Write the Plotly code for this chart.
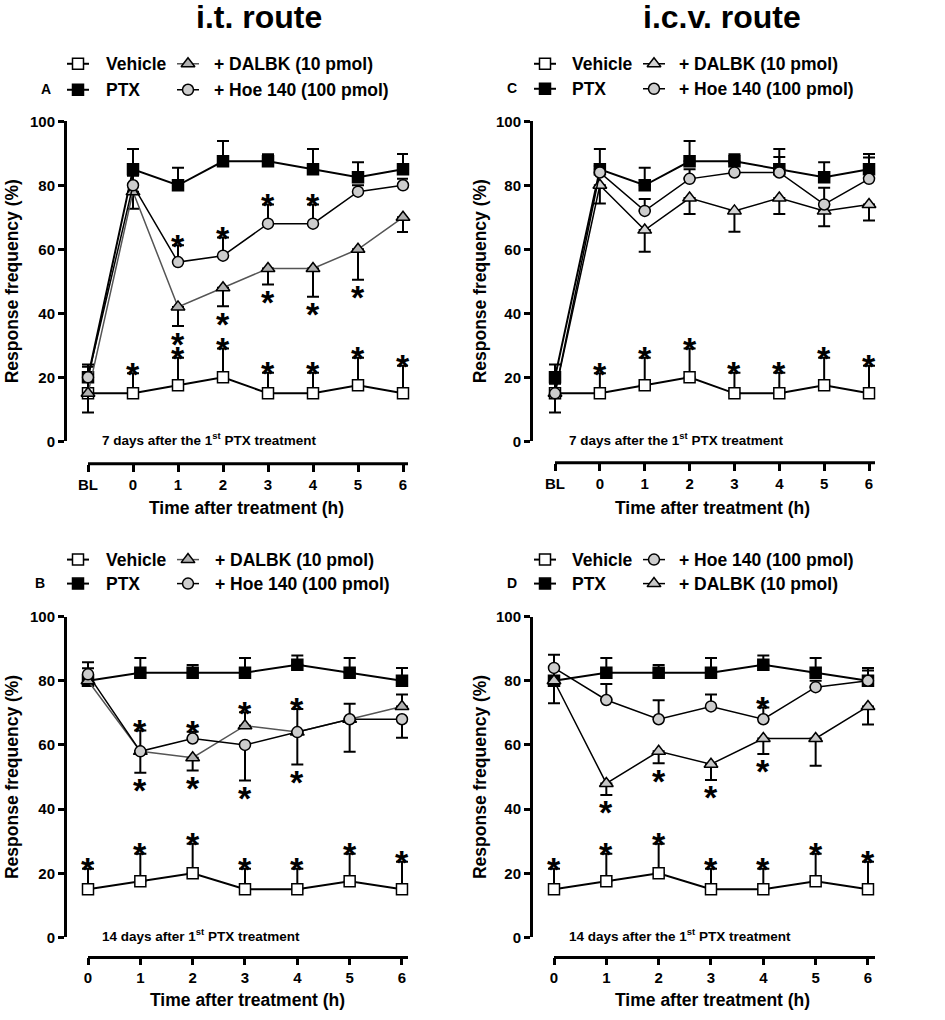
import plotly.graph_objects as go

FONT = "Liberation Sans"

# ---------------- data ----------------
time_7d = [-1, 0, 1, 2, 3, 4, 5, 6]
time_7d_labels = ["BL", "0", "1", "2", "3", "4", "5", "6"]
time_14d = [0, 1, 2, 3, 4, 5, 6]
time_14d_labels = ["0", "1", "2", "3", "4", "5", "6"]
y_ticks = [0, 20, 40, 60, 80, 100]

# Panel A: i.t. route, 7 days
A_vehicle = [15, 15, 17.5, 20, 15, 15, 17.5, 15]
A_vehicle_up = [6.3, 6.3, 8.6, 9.0, 6.4, 6.4, 8.6, 8.6]
A_vehicle_dn = [0, 0, 0, 0, 0, 0, 0, 0]
A_vehicle_star = ["", "u", "u", "u", "u", "u", "u", "u"]
A_ptx = [20, 85, 80, 87.5, 87.5, 85, 82.5, 85]
A_ptx_up = [3.3, 6.3, 5.5, 6.3, 2.2, 6.3, 4.7, 4.8]
A_ptx_dn = [0, 0, 0, 0, 0, 0, 0, 0]
A_ptx_star = ["", "", "", "", "", "", "", ""]
A_dalbk = [15, 78, 42, 48, 54, 54, 60, 70]
A_dalbk_up = [0, 0, 0, 0, 0, 0, 0, 0]
A_dalbk_dn = [6.0, 5.3, 6.0, 5.8, 5.0, 8.8, 9.5, 4.6]
A_dalbk_star = ["", "", "d", "d", "d", "d", "d", ""]
A_hoe = [20, 80, 56, 58, 68, 68, 78, 80]
A_hoe_up = [4.0, 3.0, 5.3, 5.7, 6.0, 6.0, 2.0, 2.0]
A_hoe_dn = [0, 0, 0, 0, 0, 0, 0, 0]
A_hoe_star = ["", "", "u", "u", "u", "u", "", ""]

# Panel C: i.c.v. route, 7 days
C_vehicle = [15, 15, 17.5, 20, 15, 15, 17.5, 15]
C_vehicle_up = [6.3, 6.3, 8.6, 9.0, 6.4, 6.4, 8.6, 8.6]
C_vehicle_dn = [0, 0, 0, 0, 0, 0, 0, 0]
C_vehicle_star = ["", "u", "u", "u", "u", "u", "u", "u"]
C_ptx = [20, 85, 80, 87.5, 87.5, 85, 82.5, 85]
C_ptx_up = [4.0, 6.3, 5.5, 6.3, 2.2, 6.3, 4.7, 4.8]
C_ptx_dn = [0, 0, 0, 0, 0, 0, 0, 0]
C_ptx_star = ["", "", "", "", "", "", "", ""]
C_dalbk = [15, 80, 66, 76, 72, 76, 72, 74]
C_dalbk_up = [0, 0, 0, 0, 0, 0, 0, 0]
C_dalbk_dn = [6.0, 5.7, 6.8, 5.0, 6.5, 5.0, 4.8, 5.0]
C_dalbk_star = ["", "", "", "", "", "", "", ""]
C_hoe = [15, 84, 72, 82, 84, 84, 74, 82]
C_hoe_up = [3.0, 2.0, 3.7, 3.0, 3.0, 4.8, 5.2, 6.7]
C_hoe_dn = [0, 0, 0, 0, 0, 0, 0, 0]
C_hoe_star = ["", "", "", "", "", "", "", ""]

# Panel B: i.t. route, 14 days
B_vehicle = [15, 17.5, 20, 15, 15, 17.5, 15]
B_vehicle_up = [6.4, 8.6, 9.2, 6.4, 6.4, 8.6, 8.6]
B_vehicle_dn = [0, 0, 0, 0, 0, 0, 0]
B_vehicle_star = ["u", "u", "u", "u", "u", "u", "u"]
B_ptx = [80, 82.5, 82.5, 82.5, 85, 82.5, 80]
B_ptx_up = [3.9, 4.6, 2.4, 4.6, 2.9, 4.6, 4.0]
B_ptx_dn = [0, 0, 0, 0, 0, 0, 0]
B_ptx_star = ["", "", "", "", "", "", ""]
B_dalbk = [80, 58, 56, 66, 64, 68, 72]
B_dalbk_up = [2.0, 0, 0, 4.2, 7.2, 4.8, 3.7]
B_dalbk_dn = [0, 6.7, 4.0, 0, 0, 0, 0]
B_dalbk_star = ["", "d", "d", "u", "u", "", ""]
B_hoe = [82, 58, 62, 60, 64, 68, 68]
B_hoe_up = [3.8, 6.5, 2.1, 0, 0, 0, 0]
B_hoe_dn = [0, 0, 0, 11.1, 10.1, 10.1, 5.8]
B_hoe_star = ["", "u", "u", "d", "d", "", ""]

# Panel D: i.c.v. route, 14 days
D_vehicle = [15, 17.5, 20, 15, 15, 17.5, 15]
D_vehicle_up = [6.4, 8.6, 9.2, 6.4, 6.4, 8.6, 8.6]
D_vehicle_dn = [0, 0, 0, 0, 0, 0, 0]
D_vehicle_star = ["u", "u", "u", "u", "u", "u", "u"]
D_ptx = [80, 82.5, 82.5, 82.5, 85, 82.5, 80]
D_ptx_up = [3.9, 4.6, 2.4, 4.6, 2.9, 4.6, 4.0]
D_ptx_dn = [0, 0, 0, 0, 0, 0, 0]
D_ptx_star = ["", "", "", "", "", "", ""]
D_hoe = [84, 74, 68, 72, 68, 78, 80]
D_hoe_up = [4.1, 5.0, 5.9, 3.7, 3.7, 2.0, 3.2]
D_hoe_dn = [0, 0, 0, 0, 0, 0, 0]
D_hoe_star = ["", "", "", "", "u", "", ""]
D_dalbk = [80, 48, 58, 54, 62, 62, 72]
D_dalbk_up = [0, 0, 0, 0, 0, 0, 0]
D_dalbk_dn = [7.0, 3.6, 3.7, 4.9, 4.8, 8.5, 5.6]
D_dalbk_star = ["", "d", "d", "d", "d", "", ""]

series_names = {
    "vehicle": "Vehicle",
    "ptx": "PTX",
    "dalbk": "+ DALBK (10 pmol)",
    "hoe": "+ Hoe 140 (100 pmol)",
}
route_titles = ["i.t. route", "i.c.v. route"]
notes = {
    "A": "7 days after the 1<sup>st</sup> PTX treatment",
    "C": "7 days after the 1<sup>st</sup> PTX treatment",
    "B": "14 days after 1<sup>st</sup> PTX treatment",
    "D": "14 days after the 1<sup>st</sup> PTX treatment",
}
x_title = "Time after treatment (h)"
y_title = "Response frequency (%)"

# ---------------- page geometry ----------------
W, H = 945, 1020
# measured: the photographed picture maps figure y to about 8.2 + 0.9837*y,
# so vertical target positions are converted before use
Y_OFF, Y_SCALE = 8.2, 0.9837


def PX(px):
    return px / W


def FY(py):
    return (py - Y_OFF) / Y_SCALE


def PY(py):
    return 1 - FY(py) / H


panels = [
    dict(key="A", ax="", x=time_7d, xl=time_7d_labels, dom=(67, 408), fpx=88, sp=45.0,
         ypx=(440.7, 120.5), xline=463, rows=(63, 89), letter_x=46, glyph=(78, 188), text=(104, 212),
         ytitle_x=12, xtitle=(246, 507), note=(100, 438),
         order=["vehicle", "ptx", "dalbk", "hoe"],
         legend=[["vehicle", "dalbk"], ["ptx", "hoe"]],
         data=dict(vehicle=(A_vehicle, A_vehicle_up, A_vehicle_dn, A_vehicle_star),
                   ptx=(A_ptx, A_ptx_up, A_ptx_dn, A_ptx_star),
                   dalbk=(A_dalbk, A_dalbk_up, A_dalbk_dn, A_dalbk_star),
                   hoe=(A_hoe, A_hoe_up, A_hoe_dn, A_hoe_star)),
         dalbk_line="#555555", dalbk_fill="#b0b0b0"),
    dict(key="C", ax="2", x=time_7d, xl=time_7d_labels, dom=(533, 875), fpx=555, sp=44.86,
         ypx=(440.7, 120.5), xline=462, rows=(63, 88), letter_x=512, glyph=(545, 654), text=(570, 677),
         ytitle_x=480, xtitle=(712, 507), note=(567, 438),
         order=["vehicle", "ptx", "dalbk", "hoe"],
         legend=[["vehicle", "dalbk"], ["ptx", "hoe"]],
         data=dict(vehicle=(C_vehicle, C_vehicle_up, C_vehicle_dn, C_vehicle_star),
                   ptx=(C_ptx, C_ptx_up, C_ptx_dn, C_ptx_star),
                   dalbk=(C_dalbk, C_dalbk_up, C_dalbk_dn, C_dalbk_star),
                   hoe=(C_hoe, C_hoe_up, C_hoe_dn, C_hoe_star)),
         dalbk_line="black", dalbk_fill="#d4d4d4"),
    dict(key="B", ax="3", x=time_14d, xl=time_14d_labels, dom=(67, 408), fpx=88, sp=52.33,
         ypx=(937, 616), xline=957, rows=(559, 583), letter_x=40, glyph=(78, 188), text=(104, 213),
         ytitle_x=12, xtitle=(247, 1000), note=(100, 935),
         order=["vehicle", "ptx", "dalbk", "hoe"],
         legend=[["vehicle", "dalbk"], ["ptx", "hoe"]],
         data=dict(vehicle=(B_vehicle, B_vehicle_up, B_vehicle_dn, B_vehicle_star),
                   ptx=(B_ptx, B_ptx_up, B_ptx_dn, B_ptx_star),
                   dalbk=(B_dalbk, B_dalbk_up, B_dalbk_dn, B_dalbk_star),
                   hoe=(B_hoe, B_hoe_up, B_hoe_dn, B_hoe_star)),
         dalbk_line="#555555", dalbk_fill="#b0b0b0"),
    dict(key="D", ax="4", x=time_14d, xl=time_14d_labels, dom=(533, 875), fpx=554, sp=52.33,
         ypx=(937, 616), xline=957, rows=(559, 583), letter_x=512, glyph=(545, 654), text=(570, 677),
         ytitle_x=480, xtitle=(712, 1000), note=(567, 935),
         order=["vehicle", "ptx", "hoe", "dalbk"],
         legend=[["vehicle", "hoe"], ["ptx", "dalbk"]],
         data=dict(vehicle=(D_vehicle, D_vehicle_up, D_vehicle_dn, D_vehicle_star),
                   ptx=(D_ptx, D_ptx_up, D_ptx_dn, D_ptx_star),
                   dalbk=(D_dalbk, D_dalbk_up, D_dalbk_dn, D_dalbk_star),
                   hoe=(D_hoe, D_hoe_up, D_hoe_dn, D_hoe_star)),
         dalbk_line="black", dalbk_fill="#c8c8c8"),
]


def style_for(p, s):
    if s == "vehicle":
        return dict(symbol="square", size=11, color="white", lc="black", lw=2)
    if s == "ptx":
        return dict(symbol="square", size=11, color="black", lc="black", lw=2)
    if s == "dalbk":
        return dict(symbol="triangle-up", size=12, color=p["dalbk_fill"], lc=p["dalbk_line"], lw=1.5)
    return dict(symbol="circle", size=11, color="#cdcdcd", lc="black", lw=1.5)


fig = go.Figure()
annotations = []
shapes = []
layout_axes = {}
STAR_SIZE = 34
STAR_UP_SHIFT = -0.5
STAR_DN_SHIFT = -17.5
bold = dict(family=FONT, color="black", weight="bold")

for p in panels:
    xname, yname = "x" + p["ax"], "y" + p["ax"]
    d0, d1 = p["dom"]
    fv = p["x"][0]
    r0 = fv - (p["fpx"] - d0) / p["sp"]
    r1 = fv + (d1 - p["fpx"]) / p["sp"]
    layout_axes["xaxis" + p["ax"]] = dict(
        domain=[PX(d0), PX(d1)], range=[r0, r1], anchor="free", position=PY(p["xline"]),
        tickmode="array", tickvals=p["x"], ticktext=p["xl"], ticks="outside", ticklen=7,
        tickwidth=3, tickcolor="black", showline=False, showgrid=False, zeroline=False,
        tickfont=dict(size=15, **bold), fixedrange=True)
    layout_axes["yaxis" + p["ax"]] = dict(
        domain=[PY(p["ypx"][0]), PY(p["ypx"][1])], range=[0, 100], anchor=xname,
        tickmode="array", tickvals=y_ticks, ticks="outside", ticklen=6, tickwidth=3,
        tickcolor="black", showline=True, linewidth=3, linecolor="black", showgrid=False,
        zeroline=False, tickfont=dict(size=15, **bold), fixedrange=True)
    shapes.append(dict(type="line", xref=xname, yref="paper", x0=fv, x1=r1,
                       y0=PY(p["xline"]), y1=PY(p["xline"]),
                       line=dict(color="black", width=3)))

    for s in p["order"]:
        yv, up, dn, stars = p["data"][s]
        st = style_for(p, s)
        fig.add_trace(go.Scatter(
            x=p["x"], y=yv, xaxis=xname, yaxis=yname, mode="lines+markers",
            name=series_names[s], showlegend=False, cliponaxis=False,
            line=dict(color=st["lc"], width=st["lw"]),
            marker=dict(symbol=st["symbol"], size=st["size"], color=st["color"],
                        line=dict(color="black", width=1.5)),
            error_y=dict(type="data", symmetric=False, array=up, arrayminus=dn,
                         color="black", thickness=2, width=6)))
        for xi, yi, u, dd, flag in zip(p["x"], yv, up, dn, stars):
            if flag == "u":
                annotations.append(dict(x=xi, y=yi + u, xref=xname, yref=yname, text="*",
                                        showarrow=False, xanchor="center", yanchor="middle",
                                        yshift=STAR_UP_SHIFT, font=dict(size=STAR_SIZE, **bold)))
            elif flag == "d":
                annotations.append(dict(x=xi, y=yi - dd, xref=xname, yref=yname, text="*",
                                        showarrow=False, xanchor="center", yanchor="middle",
                                        yshift=STAR_DN_SHIFT, font=dict(size=STAR_SIZE, **bold)))

    # legend (glyphs drawn on a page-pixel overlay axis)
    for ri, row in enumerate(p["legend"]):
        cy = p["rows"][ri]
        for ci, s in enumerate(row):
            cx = p["glyph"][ci]
            st = style_for(p, s)
            fig.add_trace(go.Scatter(x=[cx - 11, cx + 11], y=[FY(cy), FY(cy)], xaxis="x5", yaxis="y5",
                                     mode="lines", showlegend=False, cliponaxis=False,
                                     line=dict(color=st["lc"], width=st["lw"])))
            fig.add_trace(go.Scatter(x=[cx], y=[FY(cy)], xaxis="x5", yaxis="y5", mode="markers",
                                     showlegend=False, cliponaxis=False,
                                     marker=dict(symbol=st["symbol"], size=st["size"],
                                                 color=st["color"],
                                                 line=dict(color="black", width=1.5))))
            annotations.append(dict(x=PX(p["text"][ci]), y=PY(cy), xref="paper", yref="paper",
                                    text=series_names[s], showarrow=False, xanchor="left",
                                    yanchor="middle", font=dict(size=17.5, **bold)))
    annotations.append(dict(x=PX(p["letter_x"]), y=PY(p["rows"][1] - 1), xref="paper", yref="paper",
                            text=p["key"], showarrow=False, xanchor="center", yanchor="middle",
                            font=dict(size=14, **bold)))
    # axis titles
    annotations.append(dict(x=PX(p["ytitle_x"]), y=PY((p["ypx"][0] + p["ypx"][1]) / 2),
                            xref="paper", yref="paper", text=y_title, textangle=-90,
                            showarrow=False, xanchor="center", yanchor="middle",
                            font=dict(size=17.5, **bold)))
    annotations.append(dict(x=PX(p["xtitle"][0]), y=PY(p["xtitle"][1]), xref="paper", yref="paper",
                            text=x_title, showarrow=False, xanchor="center", yanchor="middle",
                            font=dict(size=17.5, **bold)))
    annotations.append(dict(x=PX(p["note"][0]), y=PY(p["note"][1]), xref="paper", yref="paper",
                            text=notes[p["key"]], showarrow=False, xanchor="left", yanchor="middle",
                            font=dict(size=13.5, **bold)))

# route titles
for t, cx in zip(route_titles, [259, 722]):
    annotations.append(dict(x=PX(cx), y=PY(16), xref="paper", yref="paper", text=t,
                            showarrow=False, xanchor="center", yanchor="middle",
                            font=dict(size=32, **bold)))

layout_axes["xaxis5"] = dict(domain=[0, 1], range=[0, W], anchor="y5", visible=False,
                             fixedrange=True)
layout_axes["yaxis5"] = dict(domain=[0, 1], range=[H, 0], anchor="x5", visible=False,
                             fixedrange=True)

fig.update_layout(
    width=W, height=H, margin=dict(l=0, r=0, t=0, b=0),
    paper_bgcolor="white", plot_bgcolor="rgba(0,0,0,0)",
    font=dict(family=FONT, color="black"),
    annotations=annotations, shapes=shapes, showlegend=False,
    **layout_axes)

# pin the figure to the page's top-left corner so page pixels equal figure pixels
pin_js = (
    "document.documentElement.style.overflow='hidden';"
    "document.body.style.margin='0';document.body.style.overflow='hidden';"
    "var gd=document.getElementById('{plot_id}');"
    "gd.style.position='fixed';gd.style.left='0px';gd.style.top='0px';"
)

fig.write_html("out.html", post_script=pin_js, config={"displayModeBar": False})
